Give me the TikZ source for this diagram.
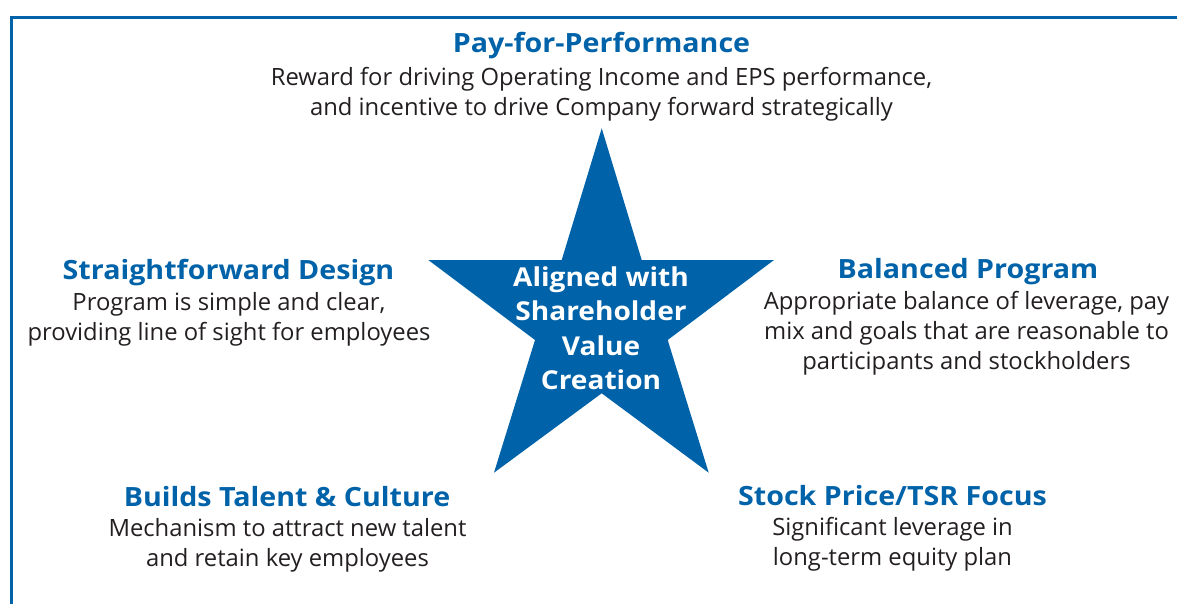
\documentclass[tikz,border=0pt]{standalone}
\usepackage{fontspec}
\setmainfont{Open Sans}
\newfontfamily\wideface[FakeStretch=1.08]{Open Sans}
\usepackage{tikz}
\definecolor{pbBlue}{HTML}{0062A8}
\definecolor{pbText}{HTML}{231F20}

\begin{document}
\begin{tikzpicture}[x=1pt, y=-1pt,
	head/.style={text=pbBlue, font=\wideface\fontsize{26.5}{30}\selectfont\bfseries, inner sep=0pt},
	body/.style={text=pbText, font=\fontsize{23.8}{30}\selectfont, align=center, inner sep=0pt},
	core/.style={text=white, font=\wideface\fontsize{26}{34.5}\selectfont\bfseries, align=center, inner sep=0pt}]
			%%%%% START %%%%%
			
			\useasboundingbox (0, 0) rectangle (1177, 604);
			
			% frame, open at the right and bottom
			\draw[line width=3pt, color=pbBlue] (11.5, 604) -- (11.5, 17.5) -- (1177, 17.5);
			
			% the star
			\fill[pbBlue] (601.7, 128.3) -- (641.7, 260) -- (774, 260) -- (667.7, 340)
				-- (708.7, 472.7) -- (601.7, 393.3) -- (494, 472.7) -- (535, 340)
				-- (428.3, 260) -- (561.7, 260) -- cycle;
			\node[core] (aligned) at (601, 328) {Aligned with\\Shareholder\\Value\\Creation};
			
			% top
			\node[head] (payHead) at (601.5, 46) {Pay-for-Performance};
			\node[body] (payText) at (601.5, 94.5) {Reward for driving Operating Income and EPS performance,\\and incentive to drive Company forward strategically};
			
			% left
			\node[head] (designHead) at (228.5, 273) {Straightforward Design};
			\node[body] (designText) at (229, 319) {Program is simple and clear,\\providing line of sight for employees};
			
			% right
			\node[head] (balanceHead) at (968, 272) {Balanced Program};
			\node[body] (balanceText) at (966.5, 333) {Appropriate balance of leverage, pay\\mix and goals that are reasonable to\\participants and stockholders};
			
			% bottom left
			\node[head] (talentHead) at (287, 497) {Builds Talent \& Culture};
			\node[body] (talentText) at (287.5, 545.5) {Mechanism to attract new talent\\and retain key employees};
			
			% bottom right
			\node[head] (stockHead) at (892.5, 496) {Stock Price/TSR Focus};
			\node[body] (stockText) at (892.5, 544.5) {Significant leverage in\\long-term equity plan};
			
			%%%%% END %%%%%
\end{tikzpicture}
\end{document}
